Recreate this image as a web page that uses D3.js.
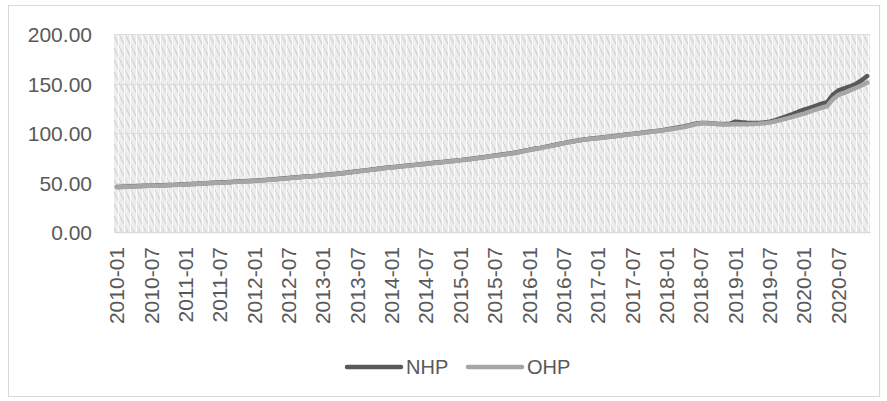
<!DOCTYPE html>
<html>
<head>
<meta charset="utf-8">
<script src="https://cdn.jsdelivr.net/npm/d3@7"></script>
<style>
  html, body { margin: 0; padding: 0; background: #ffffff; }
  svg { display: block; font-family: "Liberation Sans", Arial, sans-serif; }
</style>
</head>
<body>
<svg id="chart" width="887" height="401"></svg>
<script>
// Monthly periods 2010-01 .. 2020-12
const years = ["2010","2011","2012","2013","2014","2015","2016","2017","2018","2019","2020"];
const months = ["01","02","03","04","05","06","07","08","09","10","11","12"];
const periods = years.flatMap(y => months.map(m => y + "-" + m));

// Price index series
const nhp = [
  45.5, 45.8, 46.0, 46.2, 46.4, 46.6, 46.8, 47.0, 47.2, 47.4, 47.6, 47.9,
  48.2, 48.5, 48.8, 49.1, 49.4, 49.7, 50.0, 50.3, 50.6, 50.9, 51.2, 51.5,
  51.8, 52.2, 52.6, 53.0, 53.5, 54.0, 54.5, 55.0, 55.5, 56.0, 56.4, 56.8,
  57.5, 58.0, 58.6, 59.2, 59.9, 60.6, 61.3, 62.0, 62.7, 63.4, 64.1, 64.8,
  65.4, 66.0, 66.6, 67.2, 67.8, 68.4, 69.0, 69.6, 70.2, 70.8, 71.4, 72.0,
  72.6, 73.3, 74.0, 74.8, 75.6, 76.4, 77.2, 78.0, 78.8, 79.6, 80.6, 81.8,
  83.0, 84.0, 85.0, 86.2, 87.4, 88.6, 89.8, 91.0, 92.0, 93.0, 93.8, 94.4,
  95.0, 95.6, 96.3, 97.0, 97.7, 98.4, 99.1, 99.8, 100.5, 101.2, 101.9, 102.6,
  103.5, 104.5, 105.5, 106.5, 107.8, 109.3, 110.2, 110.0, 109.6, 109.2, 109.0, 109.3,
  111.5, 110.8, 110.3, 110.0, 110.2, 110.6, 111.5, 113.0, 115.0, 117.0, 119.0, 121.5,
  123.5, 125.5, 127.5, 129.5, 131.0, 138.5, 143.0, 145.0, 147.0, 149.5, 153.0, 157.5
];
const ohp = [
  45.2, 45.5, 45.8, 46.0, 46.2, 46.4, 46.6, 46.8, 47.0, 47.2, 47.4, 47.7,
  48.0, 48.3, 48.6, 48.9, 49.2, 49.5, 49.8, 50.1, 50.4, 50.7, 51.0, 51.3,
  51.6, 52.0, 52.4, 52.8, 53.3, 53.8, 54.3, 54.8, 55.3, 55.8, 56.2, 56.6,
  57.3, 57.8, 58.4, 59.0, 59.7, 60.4, 61.1, 61.8, 62.5, 63.2, 63.9, 64.6,
  65.2, 65.8, 66.4, 67.0, 67.6, 68.2, 68.8, 69.4, 70.0, 70.6, 71.2, 71.8,
  72.4, 73.1, 73.8, 74.6, 75.4, 76.2, 77.0, 77.8, 78.6, 79.4, 80.4, 81.6,
  82.8, 83.8, 84.8, 86.0, 87.2, 88.4, 89.6, 90.8, 91.8, 92.8, 93.6, 94.2,
  94.8, 95.4, 96.1, 96.8, 97.5, 98.2, 98.9, 99.6, 100.3, 101.0, 101.7, 102.4,
  103.2, 104.0, 105.0, 106.0, 107.3, 108.8, 109.8, 109.8, 109.4, 109.0, 108.6, 108.5,
  109.0, 108.8, 108.8, 109.0, 109.3, 109.8, 110.5, 111.8, 113.3, 114.8, 116.3, 118.0,
  119.5, 121.5, 123.5, 125.5, 127.0, 134.0, 138.5, 140.5, 143.0, 145.5, 148.0, 151.0
];
const seriesNames = ["NHP", "OHP"];
const seriesColors = ["#595959", "#a6a6a6"];
const yTicks = [0, 50, 100, 150, 200];

const svg = d3.select("#chart");
const plot = { left: 114, right: 870, top: 34, bottom: 232 };

// Outer chart frame
svg.append("rect")
  .attr("x", 8.5).attr("y", 5.5)
  .attr("width", 871).attr("height", 391)
  .attr("fill", "#ffffff")
  .attr("stroke", "#d9d9d9").attr("stroke-width", 1);

// Hatched plot-area fill
const defs = svg.append("defs");
const pat = defs.append("pattern")
  .attr("id", "hatch")
  .attr("patternUnits", "userSpaceOnUse")
  .attr("width", 6).attr("height", 12);
pat.append("rect").attr("width", 6).attr("height", 12).attr("fill", "#ededed");
pat.append("path").attr("d", "M0,0 L6,12 M-3,-6 L3,6 M3,6 L9,18")
  .attr("stroke", "#d2d2d2").attr("stroke-width", 1.2);
pat.append("rect").attr("x", 4).attr("y", 0).attr("width", 1).attr("height", 12)
  .attr("fill", "#ffffff").attr("opacity", 0.9);

svg.append("rect")
  .attr("x", plot.left).attr("y", plot.top)
  .attr("width", plot.right - plot.left).attr("height", plot.bottom - plot.top)
  .attr("fill", "url(#hatch)");

const x = d3.scaleBand().domain(periods).range([plot.left, plot.right]).padding(0);
const y = d3.scaleLinear().domain([0, 200]).range([plot.bottom, plot.top]);

// Horizontal gridlines
svg.append("g")
  .selectAll("line")
  .data(yTicks.filter(v => v > 0))
  .join("line")
  .attr("x1", plot.left).attr("x2", plot.right)
  .attr("y1", d => Math.round(y(d)) + 0.5).attr("y2", d => Math.round(y(d)) + 0.5)
  .attr("stroke", "#dcdcdc").attr("stroke-width", 1.2);

// Y axis labels
const yAxis = d3.axisLeft(y).tickValues(yTicks).tickFormat(d3.format(".2f")).tickSize(0).tickPadding(0);
const gy = svg.append("g").attr("transform", `translate(92,0)`).call(yAxis);
gy.select(".domain").remove();
gy.selectAll("text")
  .attr("fill", "#595959")
  .style("font-size", "21px")
  .attr("dy", "0.36em");

// X axis with a label every six months
const xAxis = d3.axisBottom(x)
  .tickValues(periods.filter((p, i) => i % 6 === 0))
  .tickSize(0).tickPadding(0);
const gx = svg.append("g").attr("transform", `translate(0,${plot.bottom})`).call(xAxis);
gx.select(".domain").attr("stroke", "#d9d9d9").attr("stroke-width", 1.5);
gx.selectAll("text")
  .attr("fill", "#595959")
  .style("font-size", "21px")
  .attr("text-anchor", "end")
  .attr("transform", "rotate(-90)")
  .attr("x", -15)
  .attr("y", 0)
  .attr("dy", "0.35em");

// Series lines
const line = d3.line()
  .x((d, i) => x(periods[i]) + x.bandwidth() / 2)
  .y(d => y(d))
  .curve(d3.curveLinear);

[nhp, ohp].forEach((vals, k) => {
  svg.append("path")
    .datum(vals)
    .attr("d", line)
    .attr("fill", "none")
    .attr("stroke", seriesColors[k])
    .attr("stroke-width", 4.5)
    .attr("stroke-linejoin", "round")
    .attr("stroke-linecap", "round");
});

// Legend
const legendItems = [
  { name: seriesNames[0], color: seriesColors[0], x0: 347 },
  { name: seriesNames[1], color: seriesColors[1], x0: 468 }
];
const lg = svg.append("g");
legendItems.forEach(it => {
  lg.append("line")
    .attr("x1", it.x0).attr("x2", it.x0 + 54)
    .attr("y1", 367).attr("y2", 367)
    .attr("stroke", it.color).attr("stroke-width", 4.5)
    .attr("stroke-linecap", "round");
  lg.append("text")
    .attr("x", it.x0 + 59).attr("y", 367)
    .attr("dy", "0.36em")
    .attr("fill", "#595959")
    .style("font-size", "20px")
    .text(it.name);
});
</script>
</body>
</html>
